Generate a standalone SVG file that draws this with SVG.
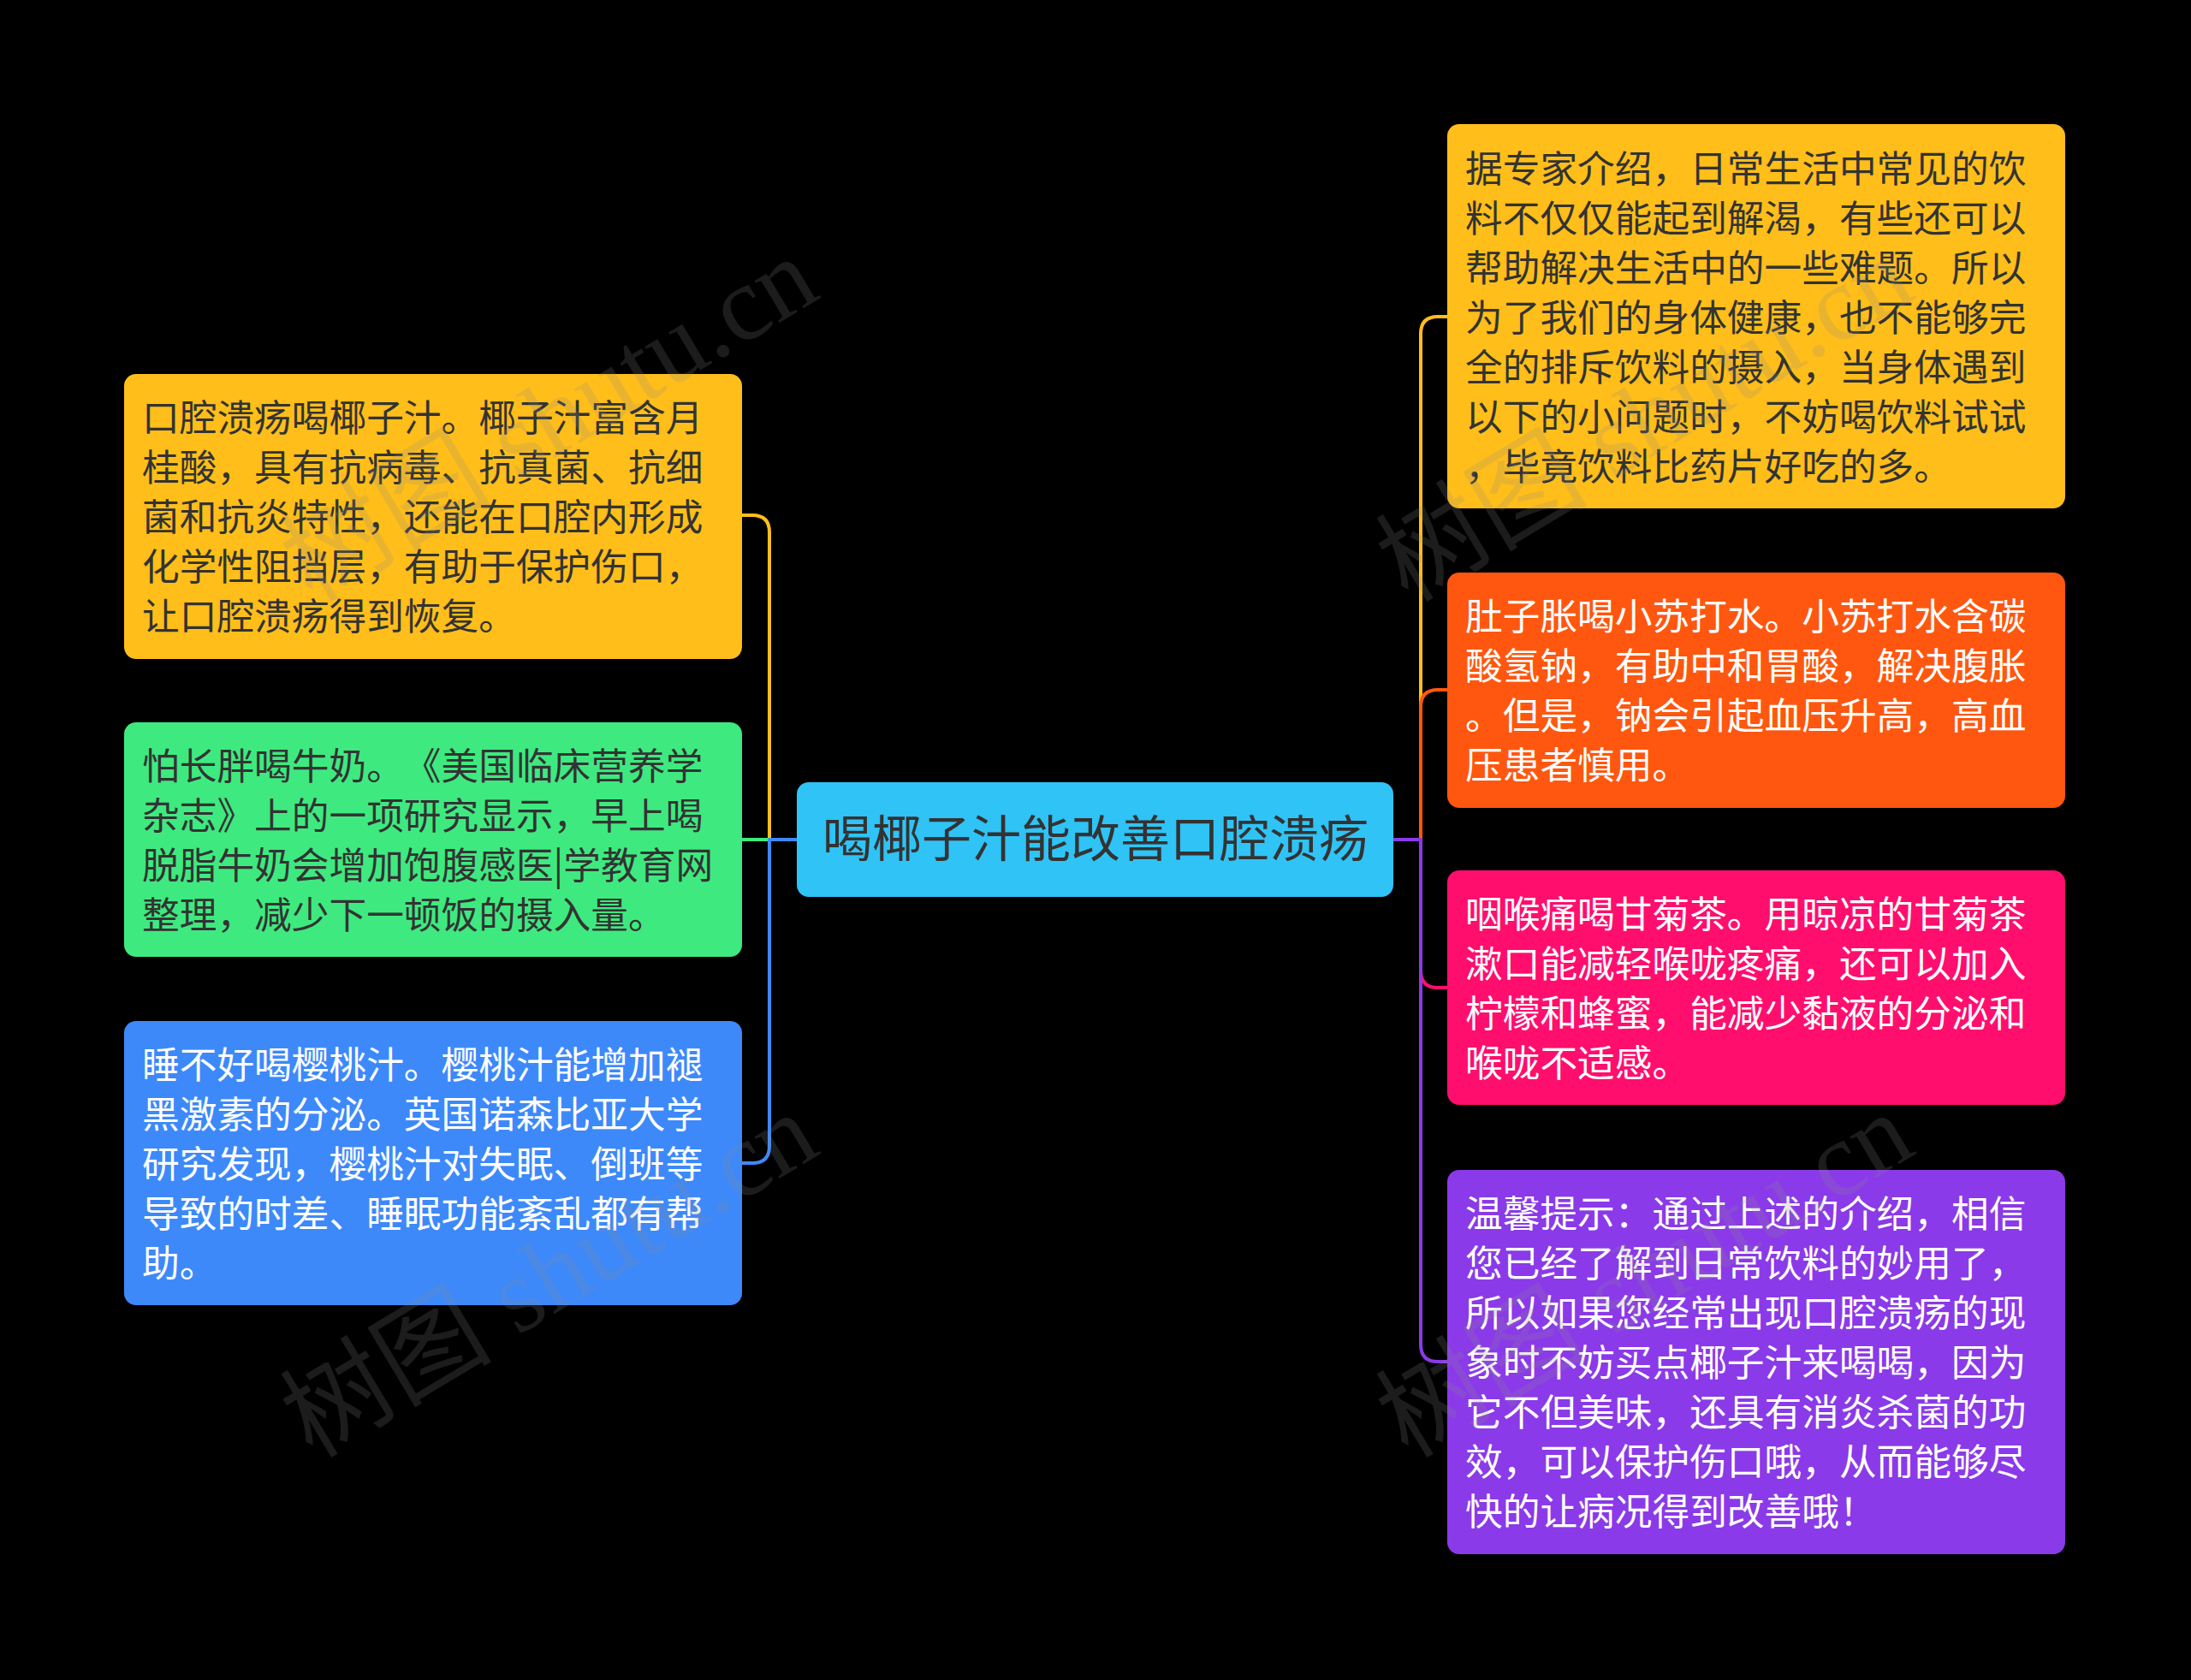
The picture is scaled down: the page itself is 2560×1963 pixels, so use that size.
<svg xmlns="http://www.w3.org/2000/svg" width="2560" height="1963" viewBox="0 0 2560 1963">
<style>
text{text-spacing-trim:space-all}
.t{font-family:"Noto Sans CJK SC","Noto Sans",sans-serif;font-size:43.7px}
.dk{fill:#333333}
.wt{fill:#ffffff}
.c{fill:none;stroke-width:4;stroke-linecap:round;stroke-linejoin:round}
.wm{font-family:"Liberation Serif","Noto Sans CJK SC",serif;font-size:124px;fill:#8c8c8c;fill-opacity:0.2}
</style>
<rect x="0" y="0" width="2560" height="1963" fill="#000000"/>
<g id="connectors">
<path class="c" stroke="#FFBE1A" d="M931 981 H899 V622 Q899 602 879 602 H867"/>
<path class="c" stroke="#3EEA7F" d="M931 981 H867"/>
<path class="c" stroke="#3D89FA" d="M931 981 H899 V1339 Q899 1359 879 1359 H867"/>
<path class="c" stroke="#FFBE1A" d="M1628 981 H1660 V390 Q1660 370 1680 370 H1691"/>
<path class="c" stroke="#FF570F" d="M1628 981 H1660 V826 Q1660 806 1680 806 H1691"/>
<path class="c" stroke="#FF0E6E" d="M1628 981 H1660 V1134 Q1660 1154 1680 1154 H1691"/>
<path class="c" stroke="#8A3AE8" d="M1628 981 H1660 V1571 Q1660 1591 1680 1591 H1691"/>
</g>
<g id="center">
<rect x="931" y="914" width="697" height="134" rx="14" fill="#30C3F5"/>
<text x="1280" y="1001" text-anchor="middle" class="dk" style="font-family:'Noto Sans CJK SC','Noto Sans',sans-serif;font-size:58px">喝椰子汁能改善口腔溃疡</text>
</g>
<g id="left1">
<rect x="145" y="437" width="722" height="333" rx="14" fill="#FFBE1A"/>
<text class="t dk"><tspan x="166" y="504">口腔溃疡喝椰子汁。椰子汁富含月</tspan><tspan x="166" y="562">桂酸，具有抗病毒、抗真菌、抗细</tspan><tspan x="166" y="620">菌和抗炎特性，还能在口腔内形成</tspan><tspan x="166" y="678">化学性阻挡层，有助于保护伤口，</tspan><tspan x="166" y="736">让口腔溃疡得到恢复。</tspan></text>
</g>
<g id="left2">
<rect x="145" y="844" width="722" height="274" rx="14" fill="#3EEA7F"/>
<text class="t dk"><tspan x="166" y="911">怕长胖喝牛奶。《美国临床营养学</tspan><tspan x="166" y="969">杂志》上的一项研究显示，早上喝</tspan><tspan x="166" y="1027">脱脂牛奶会增加饱腹感医|学教育网</tspan><tspan x="166" y="1085">整理，减少下一顿饭的摄入量。</tspan></text>
</g>
<g id="left3">
<rect x="145" y="1193" width="722" height="332" rx="14" fill="#3D89FA"/>
<text class="t wt"><tspan x="166" y="1260">睡不好喝樱桃汁。樱桃汁能增加褪</tspan><tspan x="166" y="1318">黑激素的分泌。英国诺森比亚大学</tspan><tspan x="166" y="1376">研究发现，樱桃汁对失眠、倒班等</tspan><tspan x="166" y="1434">导致的时差、睡眠功能紊乱都有帮</tspan><tspan x="166" y="1492">助。</tspan></text>
</g>
<g id="right1">
<rect x="1691" y="145" width="722" height="449" rx="14" fill="#FFBE1A"/>
<text class="t dk"><tspan x="1712" y="213">据专家介绍，日常生活中常见的饮</tspan><tspan x="1712" y="271">料不仅仅能起到解渴，有些还可以</tspan><tspan x="1712" y="329">帮助解决生活中的一些难题。所以</tspan><tspan x="1712" y="387">为了我们的身体健康，也不能够完</tspan><tspan x="1712" y="445">全的排斥饮料的摄入，当身体遇到</tspan><tspan x="1712" y="503">以下的小问题时，不妨喝饮料试试</tspan><tspan x="1712" y="561">，毕竟饮料比药片好吃的多。</tspan></text>
</g>
<g id="right2">
<rect x="1691" y="669" width="722" height="275" rx="14" fill="#FF570F"/>
<text class="t wt"><tspan x="1712" y="736">肚子胀喝小苏打水。小苏打水含碳</tspan><tspan x="1712" y="794">酸氢钠，有助中和胃酸，解决腹胀</tspan><tspan x="1712" y="852">。但是，钠会引起血压升高，高血</tspan><tspan x="1712" y="910">压患者慎用。</tspan></text>
</g>
<g id="right3">
<rect x="1691" y="1017" width="722" height="274" rx="14" fill="#FF0E6E"/>
<text class="t wt"><tspan x="1712" y="1084">咽喉痛喝甘菊茶。用晾凉的甘菊茶</tspan><tspan x="1712" y="1142">漱口能减轻喉咙疼痛，还可以加入</tspan><tspan x="1712" y="1200">柠檬和蜂蜜，能减少黏液的分泌和</tspan><tspan x="1712" y="1258">喉咙不适感。</tspan></text>
</g>
<g id="right4">
<rect x="1691" y="1367" width="722" height="449" rx="14" fill="#8A3AE8"/>
<text class="t wt"><tspan x="1712" y="1434">温馨提示：通过上述的介绍，相信</tspan><tspan x="1712" y="1492">您已经了解到日常饮料的妙用了，</tspan><tspan x="1712" y="1550">所以如果您经常出现口腔溃疡的现</tspan><tspan x="1712" y="1608">象时不妨买点椰子汁来喝喝，因为</tspan><tspan x="1712" y="1666">它不但美味，还具有消炎杀菌的功</tspan><tspan x="1712" y="1724">效，可以保护伤口哦，从而能够尽</tspan><tspan x="1712" y="1782">快的让病况得到改善哦！</tspan></text>
</g>
<g id="watermarks">
<text class="wm" x="365" y="705" transform="rotate(-31 365 705)">树图 shutu.cn</text>
<text class="wm" x="1645" y="705" transform="rotate(-31 1645 705)">树图 shutu.cn</text>
<text class="wm" x="365" y="1705" transform="rotate(-31 365 1705)">树图 shutu.cn</text>
<text class="wm" x="1645" y="1705" transform="rotate(-31 1645 1705)">树图 shutu.cn</text>
</g>
</svg>
